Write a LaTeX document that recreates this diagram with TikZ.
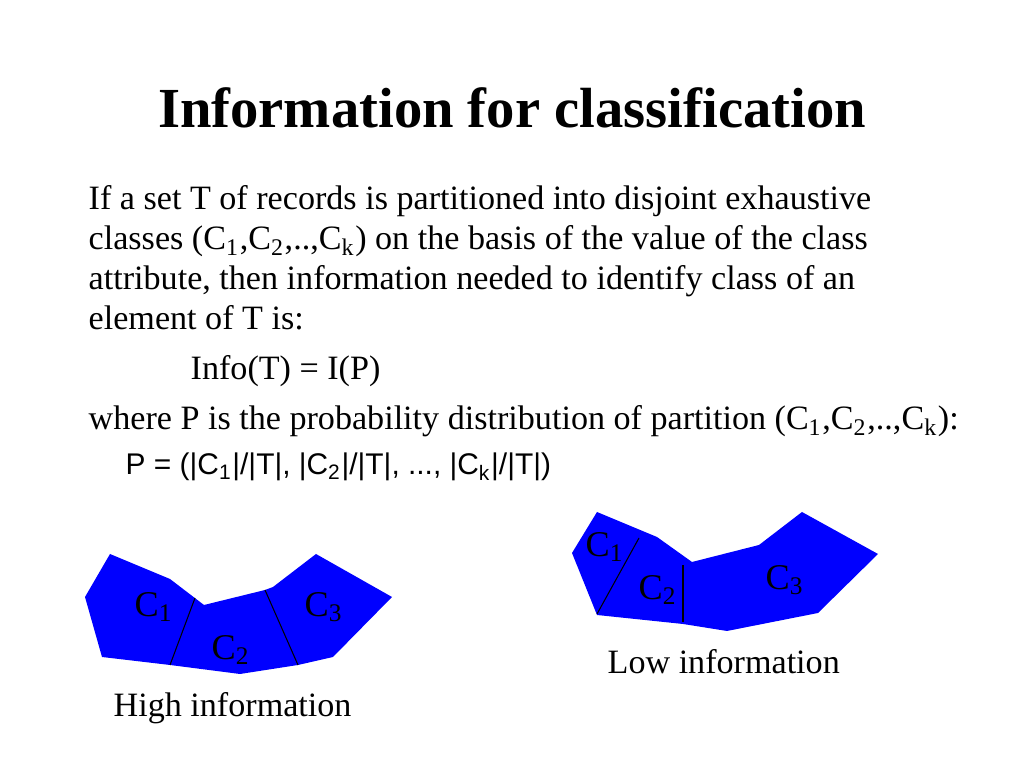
\documentclass[tikz,border=0pt]{standalone}
\usepackage{fontspec}
\setmainfont{Liberation Serif}
\newfontfamily\arialf{Liberation Sans}
\newcommand{\sbs}[1]{\textsubscript{#1}}
\begin{document}
\begin{tikzpicture}[x=0.01cm,y=-0.01cm,
  txt/.style={anchor=base west,inner sep=0,font=\fontsize{9.7pt}{11pt}\selectfont},
  lab/.style={inner sep=0,font=\fontsize{10.3pt}{11pt}\selectfont},
  blob/.style={fill=blue,draw=none},
  cut/.style={draw=black,line width=0.3pt}]
\useasboundingbox (0,0) rectangle (1024,768);
\node[anchor=base,inner sep=0,font=\fontsize{16.1pt}{18pt}\selectfont\bfseries] (title) at (512,128) {Information for classification};
\node[txt] (l1) at (88,210) {If a set T of records is partitioned into disjoint exhaustive};
\node[txt] (l2) at (88,250) {classes (C\sbs{1},C\sbs{2},..,C\sbs{k}) on the basis of the value of the class};
\node[txt] (l3) at (88,290) {attribute, then information needed to identify class of an};
\node[txt] (l4) at (88,330) {element of T is:};
\node[txt] (l5) at (190,380) {Info(T) = I(P)};
\node[txt] (l6) at (88,430) {where P is the probability distribution of partition (C\sbs{1},C\sbs{2},..,C\sbs{k}):};
\node[txt,font=\arialf\fontsize{8.5pt}{10pt}\selectfont] (l7) at (125,475) {P = (|C\sbs{1}|/|T|, |C\sbs{2}|/|T|, ..., |C\sbs{k}|/|T|)};
% left shape
\fill[blob] (110,554) -- (170,579) -- (204,605) -- (265,590) -- (273,587) -- (316,554) -- (392,597) -- (333,657) -- (298,665) -- (240,674) -- (170,665) -- (102,657) -- (85,597) -- cycle;
\coordinate (a1) at (195,598); \coordinate (a2) at (170,665);
\coordinate (b1) at (265,590); \coordinate (b2) at (298,665);
\draw[cut] (a1) -- (a2); \draw[cut] (b1) -- (b2);
\node[lab] (hc1) at (154,607) {C\sbs{1}};
\node[lab] (hc2) at (231,650) {C\sbs{2}};
\node[lab] (hc3) at (324,607) {C\sbs{3}};
\node[txt] (high) at (113,717) {High information};
% right shape
\fill[blob] (597,512) -- (657,537) -- (692,562) -- (759,545) -- (802,512) -- (878,554) -- (818,613) -- (727,631) -- (683,624) -- (597,615) -- (572,553) -- cycle;
\coordinate (c1) at (639,538); \coordinate (c2) at (597,614);
\coordinate (d1) at (683,565); \coordinate (d2) at (683,622);
\draw[cut] (c1) -- (c2); \draw[cut] (d1) -- (d2);
\node[lab] (lc1) at (605,547) {C\sbs{1}};
\node[lab] (lc2) at (658,590) {C\sbs{2}};
\node[lab] (lc3) at (785,580) {C\sbs{3}};
\node[txt] (low) at (607,674) {Low information};
\end{tikzpicture}
\end{document}
